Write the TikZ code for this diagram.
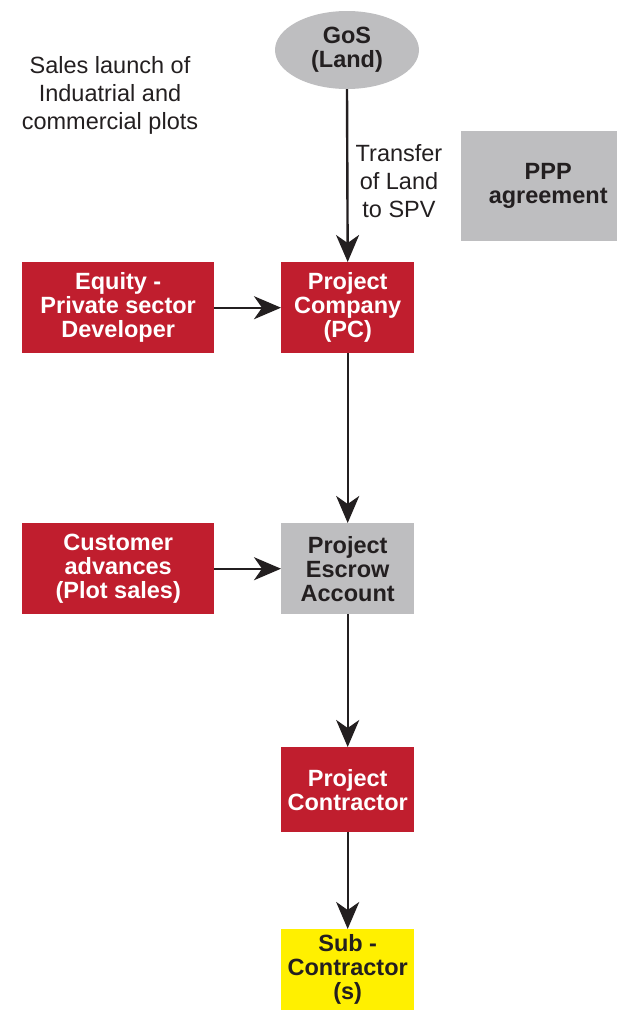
\documentclass[tikz,border=0pt]{standalone}
\usepackage{fontspec}
\setmainfont{Liberation Sans}
\usetikzlibrary{arrows.meta,shapes.geometric}
\definecolor{boxred}{RGB}{192,30,46}
\definecolor{boxgray}{RGB}{190,190,192}
\definecolor{boxyellow}{RGB}{255,240,0}
\definecolor{ink}{RGB}{35,31,32}
\tikzset{
  x=1pt,y=-1pt,
  base/.style={font=\fontsize{23.5}{24}\selectfont\bfseries, align=center, inner sep=0pt, anchor=north west},
  redbox/.style={base, fill=boxred, text=white},
  graybox/.style={base, fill=boxgray, text=ink},
  yellowbox/.style={base, fill=boxyellow, text=ink},
  plain/.style={font=\fontsize{23.5}{28}\selectfont, align=center, text=ink, inner sep=0pt},
  conn/.style={draw=ink, line width=2.4pt, -{Stealth[length=27pt,width=23pt,inset=8pt]}}
}
\begin{document}
\begin{tikzpicture}
\useasboundingbox (0,0) rectangle (617,1010);
\node[ellipse, fill=boxgray, text=ink, font=\fontsize{23.5}{24}\selectfont\bfseries, align=center, minimum width=144pt, minimum height=78pt, inner sep=0pt] (gos) at (347,50) {GoS\\(Land)};
\node[plain] (sales) at (110,95) {Sales launch of\\Induatrial and\\commercial plots};
\node[plain] (transfer) at (399,181) {Transfer\\of Land\\to SPV};
\node[graybox, minimum width=174pt, minimum height=110pt] (ppp) at (461,131) {PPP\\agreement};
\node[redbox, minimum width=192pt, minimum height=91pt] (equity) at (22,262) {Equity -\\Private sector\\Developer};
\node[redbox, minimum width=133pt, minimum height=91pt] (pc) at (281,262) {Project\\Company\\(PC)};
\node[redbox, minimum width=192pt, minimum height=91pt] (cust) at (22,523) {Customer\\advances\\(Plot sales)};
\node[graybox, minimum width=133pt, minimum height=91pt] (escrow) at (281,523) {Project\\Escrow\\Account};
\node[redbox, minimum width=133pt, minimum height=85pt] (contr) at (281,747) {Project\\Contractor};
\node[yellowbox, minimum width=133pt, minimum height=81pt] (sub) at (281,929) {Sub -\\Contractor\\(s)};
\draw[conn] (gos.south) -- (pc.north);
\draw[conn] (equity.east) -- (pc.west);
\draw[conn] (pc.south) -- (escrow.north);
\draw[conn] (cust.east) -- (escrow.west);
\draw[conn] (escrow.south) -- (contr.north);
\draw[conn] (contr.south) -- (sub.north);
\end{tikzpicture}
\end{document}
